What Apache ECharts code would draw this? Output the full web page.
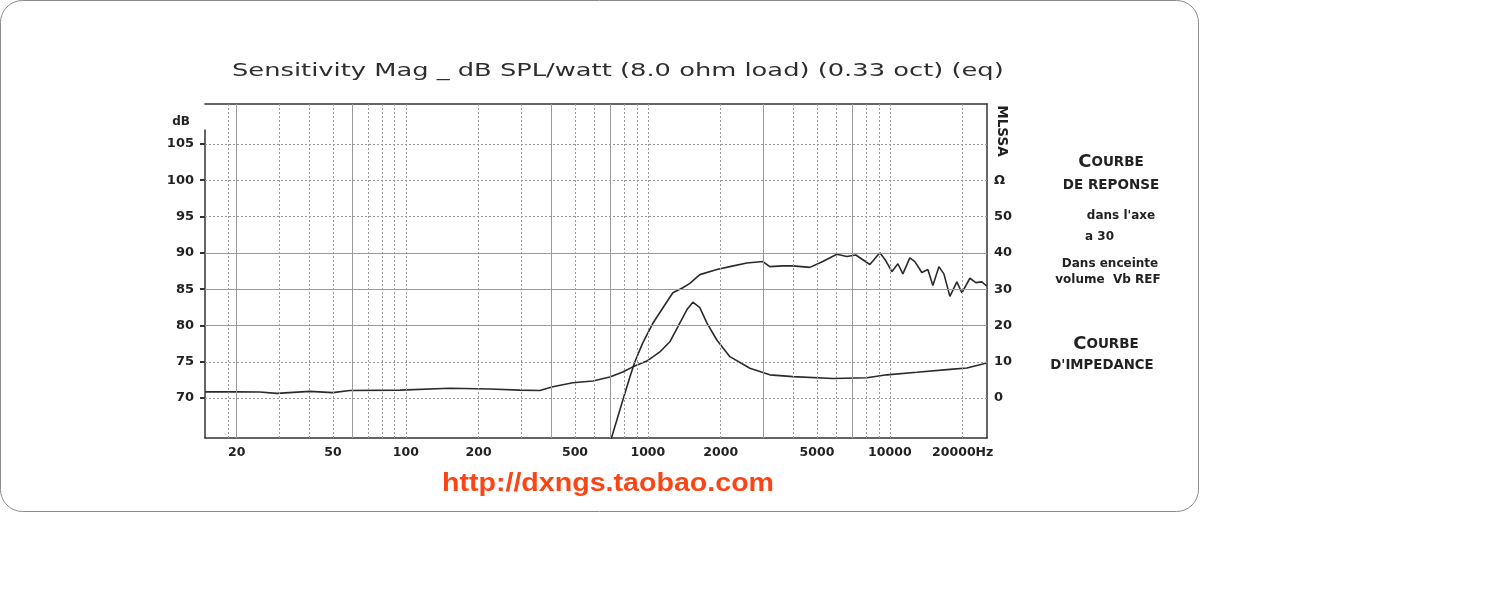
<!DOCTYPE html>
<html>
<head>
<meta charset="utf-8">
<script src="https://cdn.jsdelivr.net/npm/echarts@6/dist/echarts.min.js"></script>
<style>
html,body{margin:0;padding:0;background:#fff;}
#chart{width:1500px;height:616px;}
</style>
</head>
<body>
<div id="chart"></div>
<script>
// ---- data ----
const freqLabels = [20, 50, 100, 200, 500, 1000, 2000, 5000, 10000, 20000];
const dbTicks = [70, 75, 80, 85, 90, 95, 100, 105];
const ohmTicks = [0, 10, 20, 30, 40, 50, 60];

const gridFreqDotted = [18.4, 30, 40, 50, 70, 80, 90, 100, 200, 300, 500, 600, 800, 900, 1000, 2000, 4000, 5000, 6000, 8000, 9000, 10000, 20000];
const gridFreqSolid = [20, 60, 400, 700, 3000, 7000];
const gridDbDotted = [70, 75, 95, 100, 105];
const gridDbSolid = [80, 85, 90];

// SPL response (dB)
const splFreq = [703, 788, 843, 884, 953, 1049, 1153, 1269, 1395, 1492, 1640, 1928, 2183, 2566, 2987, 3193, 3613, 3974, 4671, 5285, 6039, 6643, 7236, 8269, 9093, 9628, 10193, 10792, 11318, 12093, 12686, 13556, 14357, 15056, 15946, 16720, 17703, 18918, 19840, 21412, 22670, 24003, 25170];
const splDb   = [64.2, 69.7, 72.9, 75.0, 77.6, 80.3, 82.4, 84.5, 85.2, 85.8, 87.0, 87.7, 88.1, 88.6, 88.8, 88.1, 88.2, 88.2, 88.0, 88.8, 89.8, 89.5, 89.7, 88.4, 90.0, 88.9, 87.4, 88.5, 87.1, 89.3, 88.8, 87.3, 87.7, 85.5, 88.1, 87.1, 84.0, 86.0, 84.5, 86.5, 85.9, 86.0, 85.4];

// Impedance (ohm)
const impFreq = [14.8, 20, 24.9, 29.3, 40.1, 49.9, 58.7, 94.5, 152, 222, 296, 358, 405, 490, 593, 697, 788, 867, 991, 1121, 1233, 1330, 1449, 1535, 1640, 1753, 1928, 2183, 2640, 3193, 3974, 5814, 8035, 9718, 12930, 17703, 20810, 24230, 25170];
const impOhm  = [1.7, 1.7, 1.66, 1.3, 1.85, 1.5, 2.1, 2.2, 2.7, 2.5, 2.2, 2.1, 3.1, 4.2, 4.7, 5.8, 7.2, 8.6, 10.2, 12.7, 15.5, 19.6, 24.3, 26.4, 24.9, 20.7, 16.0, 11.4, 8.2, 6.4, 5.9, 5.4, 5.6, 6.4, 7.1, 7.9, 8.3, 9.4, 9.7];

const titleText = 'Sensitivity Mag _ dB SPL/watt (8.0 ohm load) (0.33 oct) (eq)';

// axis ranges
const fMin = 14.8, fMax = 25200;
const dbMin = 64.5, dbMax = 110.5;
const ohmMin = -11, ohmMax = 81;

// ---- chart ----
const chart = echarts.init(document.getElementById('chart'), null, {renderer: 'canvas'});
const BOLD = 'DejaVu Sans';
const labelFont = {fontFamily: BOLD, fontWeight: 'bold', fontSize: 13, color: '#222'};
const gridColor = '#9a9a9a';
const axisColor = '#333';

const G0 = {left: 205, right: 513, top: 104, bottom: 178};
const G1 = {left: 205, right: 513, top: 130, bottom: 178};
// left dB axis (drawn in the shorter grid so that its line starts lower, like the original)
const g0h = 616 - G0.top - G0.bottom, g1h = 616 - G1.top - G1.bottom;
const dbMaxShort = dbMin + (dbMax - dbMin) * g1h / g0h;

function vLines(vals, type) {
  return vals.map(v => ({xAxis: v, lineStyle: {type: type, color: gridColor, width: 1}}));
}
function hLines(vals, type) {
  return vals.map(v => ({yAxis: v, lineStyle: {type: type, color: gridColor, width: 1}}));
}
function txt(x, y, text, size, align) {
  return {type: 'text', x: x, y: y, style: {text: text, fontFamily: BOLD, fontWeight: 'bold', fontSize: size,
    fill: '#222', textAlign: align || 'center', textVerticalAlign: 'middle'}};
}
function smallCaps(x, y, first, rest) {
  return {type: 'text', x: x, y: y, style: {text: '{a|' + first + '}{b|' + rest + '}', textAlign: 'center', textVerticalAlign: 'middle',
    rich: {a: {fontFamily: BOLD, fontWeight: 'bold', fontSize: 18, fill: '#222'},
           b: {fontFamily: BOLD, fontWeight: 'bold', fontSize: 13.5, fill: '#222'}}}};
}

const option = {
  animation: false,
  grid: [G0, G1],
  xAxis: [
    {
      type: 'log', logBase: 10, min: fMin, max: fMax, gridIndex: 0, position: 'bottom',
      axisLine: {show: true, onZero: false, lineStyle: {color: axisColor, width: 1.5}},
      axisTick: {show: false},
      splitLine: {show: false},
      minorSplitLine: {show: false},
      axisLabel: Object.assign({
        customValues: freqLabels, margin: 8,
        formatter: v => (v === 20000 ? '20000Hz' : String(v))
      }, labelFont, {fontSize: 12.5})
    },
    {
      type: 'value', min: 0, max: 1, gridIndex: 0, position: 'top',
      axisLine: {show: true, onZero: false, lineStyle: {color: axisColor, width: 1.5}},
      axisTick: {show: false}, axisLabel: {show: false}, splitLine: {show: false}
    },
    {
      type: 'log', logBase: 10, min: fMin, max: fMax, gridIndex: 1, show: false
    }
  ],
  yAxis: [
    {
      type: 'value', min: dbMin, max: dbMax, gridIndex: 0, position: 'left',
      axisLine: {show: false, onZero: false}, axisTick: {show: false}, axisLabel: {show: false}, splitLine: {show: false}
    },
    {
      type: 'value', min: ohmMin, max: ohmMax, gridIndex: 0, position: 'right',
      axisLine: {show: true, onZero: false, lineStyle: {color: axisColor, width: 1.5}},
      axisTick: {show: false},
      splitLine: {show: false},
      axisLabel: Object.assign({customValues: ohmTicks, margin: 7,
        formatter: v => (v === 60 ? 'Ω' : String(v))}, labelFont)
    },
    {
      type: 'value', min: dbMin, max: dbMaxShort, gridIndex: 1, position: 'left',
      axisLine: {show: true, onZero: false, lineStyle: {color: axisColor, width: 1.5}},
      axisTick: {show: true, customValues: dbTicks, length: 5, lineStyle: {color: axisColor, width: 2}},
      splitLine: {show: false},
      axisLabel: Object.assign({customValues: dbTicks, margin: 11}, labelFont)
    }
  ],
  series: [
    {
      name: 'grid', type: 'line', data: [], silent: true, z: 1, xAxisIndex: 0, yAxisIndex: 0,
      markLine: {
        silent: true, symbol: 'none', label: {show: false}, animation: false,
        data: [].concat(vLines(gridFreqDotted, [2, 2]), vLines(gridFreqSolid, 'solid'),
                        hLines(gridDbDotted, [2, 2]), hLines(gridDbSolid, 'solid'))
      }
    },
    {
      name: 'SPL', type: 'line', xAxisIndex: 0, yAxisIndex: 0, z: 3,
      data: splFreq.map((f, i) => [f, splDb[i]]),
      showSymbol: false, symbol: 'none', clip: true,
      lineStyle: {color: '#2b2b2b', width: 1.6}
    },
    {
      name: 'Impedance', type: 'line', xAxisIndex: 0, yAxisIndex: 1, z: 3,
      data: impFreq.map((f, i) => [f, impOhm[i]]),
      showSymbol: false, symbol: 'none', clip: true,
      lineStyle: {color: '#2b2b2b', width: 1.6}
    }
  ],
  graphic: [
    {type: 'rect', z: -10, shape: {x: 0.5, y: 0.5, width: 1198, height: 511, r: 22},
     style: {fill: 'none', stroke: '#8c8c8c', lineWidth: 1}},
    {type: 'text', x: 232, y: 71, scaleX: 1.43,
     style: {text: titleText, fontFamily: 'DejaVu Sans', fontWeight: 'normal', fontSize: 18, fill: '#2e2e2e', textAlign: 'left', textVerticalAlign: 'middle'}},
    txt(181, 122, 'dB', 12),
    {type: 'text', x: 1001, y: 131, rotation: -Math.PI / 2,
     style: {text: 'MLSSA', fontFamily: BOLD, fontWeight: 'bold', fontSize: 13.5, fill: '#222', textAlign: 'center', textVerticalAlign: 'middle'}},
    smallCaps(1111, 162, 'C', 'OURBE'),
    txt(1111, 185, 'DE REPONSE', 13.5),
    txt(1121, 216, "dans l'axe", 12),
    txt(1085, 237, 'a 30', 12, 'left'),
    txt(1110, 264, 'Dans enceinte', 12),
    txt(1108, 280, 'volume  Vb REF', 12),
    smallCaps(1106, 344, 'C', 'OURBE'),
    txt(1102, 366, "D'IMPEDANCE", 13.3),
    {type: 'text', x: 608, y: 484, scaleX: 1.1,
     style: {text: 'http://dxngs.taobao.com', fontFamily: 'Liberation Sans', fontWeight: 'bold', fontSize: 26, fill: '#fa4616', textAlign: 'center', textVerticalAlign: 'middle'}}
  ]
};
chart.setOption(option);
</script>
</body>
</html>
